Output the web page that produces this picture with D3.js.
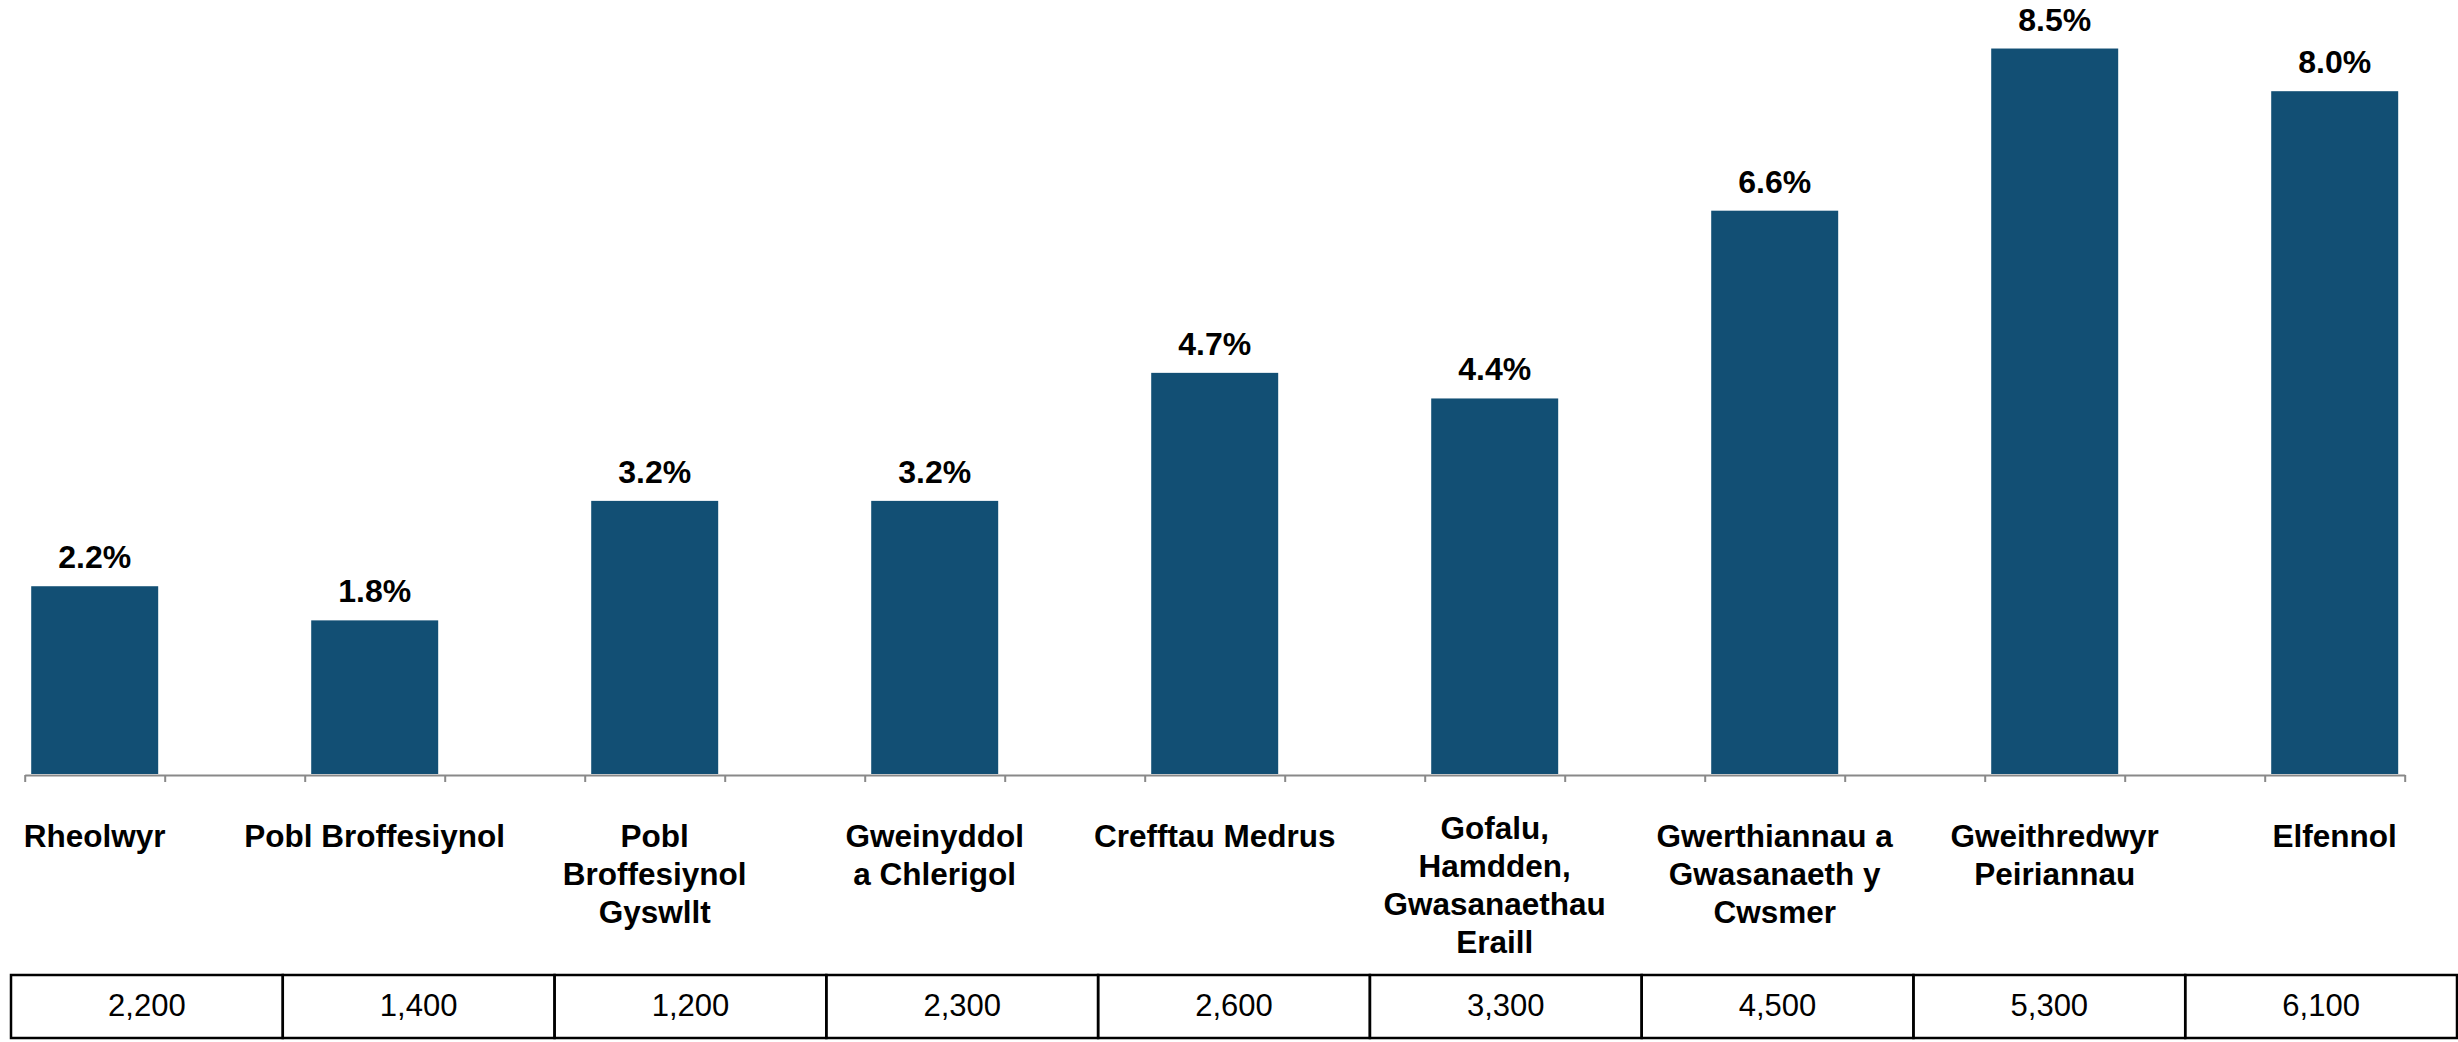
<!DOCTYPE html>
<html lang="cy">
<head>
  <meta charset="UTF-8">
  <script src="https://cdn.jsdelivr.net/npm/d3@7"></script>
  <style>
    body { margin: 0; background: #fff; }
    text { font-family: "Liberation Sans", Arial, sans-serif; fill: #000; }
    .bar { fill: #124f74; }
    .axis path, .axis line { stroke: #898989; stroke-width: 2; }
    .cell { fill: none; stroke: #000; stroke-width: 2.5; }
  </style>
</head>
<body>
<svg></svg>
<script>
// category labels, already split into lines as on the picture
var categories = ["Rheolwyr", "Pobl Broffesiynol", "Pobl Broffesiynol Gyswllt",
  "Gweinyddol a Chlerigol", "Crefftau Medrus", "Gofalu, Hamdden, Gwasanaethau Eraill",
  "Gwerthiannau a Gwasanaeth y Cwsmer", "Gweithredwyr Peiriannau", "Elfennol"];
var labelLines = [
  ["Rheolwyr"],
  ["Pobl Broffesiynol"],
  ["Pobl", "Broffesiynol", "Gyswllt"],
  ["Gweinyddol", "a Chlerigol"],
  ["Crefftau Medrus"],
  ["Gofalu,", "Hamdden,", "Gwasanaethau", "Eraill"],
  ["Gwerthiannau a", "Gwasanaeth y", "Cwsmer"],
  ["Gweithredwyr", "Peiriannau"],
  ["Elfennol"]
];
var percents = [2.2, 1.8, 3.2, 3.2, 4.7, 4.4, 6.6, 8.5, 8.0];
var counts = [2200, 1400, 1200, 2300, 2600, 3300, 4500, 5300, 6100];

function draw() {
  var W = 2458, H = 1042;
  var svg = d3.select("svg").attr("width", W).attr("height", H);

  // 17 slots along the axis: bars sit in every other slot
  var nSlots = categories.length * 2 - 1;
  var x = d3.scaleLinear().domain([0, nSlots]).range([24.7, 2404.7]);
  var slot = x(1) - x(0);
  var barW = slot * 0.907;

  var axisY = 775;
  var y = d3.scaleLinear().domain([0, 9]).range([axisY - 1, axisY - 1 - 9 * 85.35]);

  svg.selectAll("rect.bar")
    .data(percents)
    .enter().append("rect")
    .attr("class", "bar")
    .attr("x", function(d, i) { return x(2 * i) + (slot - barW) / 2; })
    .attr("y", function(d) { return y(d); })
    .attr("width", barW)
    .attr("height", function(d) { return y(0) - y(d); });

  svg.selectAll("text.val")
    .data(percents)
    .enter().append("text")
    .attr("class", "val")
    .attr("x", function(d, i) { return x(2 * i) + slot / 2; })
    .attr("y", function(d) { return y(d) - 18; })
    .attr("text-anchor", "middle")
    .style("font-size", "32px")
    .style("font-weight", "bold")
    .text(function(d) { return d.toFixed(1) + "%"; });

  var xAxis = d3.axisBottom(x)
    .tickValues(d3.range(nSlots + 1))
    .tickSize(7)
    .tickSizeOuter(0)
    .tickFormat("");
  svg.append("g")
    .attr("class", "axis")
    .attr("transform", "translate(0," + axisY + ")")
    .call(xAxis);

  // category labels under the axis
  var lab = svg.selectAll("text.cat")
    .data(labelLines)
    .enter().append("text")
    .attr("class", "cat")
    .attr("text-anchor", "middle")
    .style("font-size", "31.5px")
    .style("font-weight", "bold")
    .attr("transform", function(d, i) {
      var top = 846.5 - Math.max(0, d.length - 3) * 7.5;
      return "translate(" + (x(2 * i) + slot / 2) + "," + top + ")";
    });
  lab.selectAll("tspan")
    .data(function(d) { return d; })
    .enter().append("tspan")
    .attr("x", 0)
    .attr("y", function(d, j) { return j * 38; })
    .text(function(d) { return d; });

  // table of counts
  var tx = d3.scaleBand().domain(categories).range([11, 2457]);
  var tTop = 975, tH = 63;
  var cells = svg.selectAll("g.cellg")
    .data(counts)
    .enter().append("g")
    .attr("class", "cellg")
    .attr("transform", function(d, i) { return "translate(" + tx(categories[i]) + "," + tTop + ")"; });
  cells.append("rect")
    .attr("class", "cell")
    .attr("width", tx.bandwidth())
    .attr("height", tH);
  cells.append("text")
    .attr("x", tx.bandwidth() / 2)
    .attr("y", 41)
    .attr("text-anchor", "middle")
    .style("font-size", "31px")
    .text(function(d) { return d3.format(",")(d); });
}

draw();
</script>
</body>
</html>
